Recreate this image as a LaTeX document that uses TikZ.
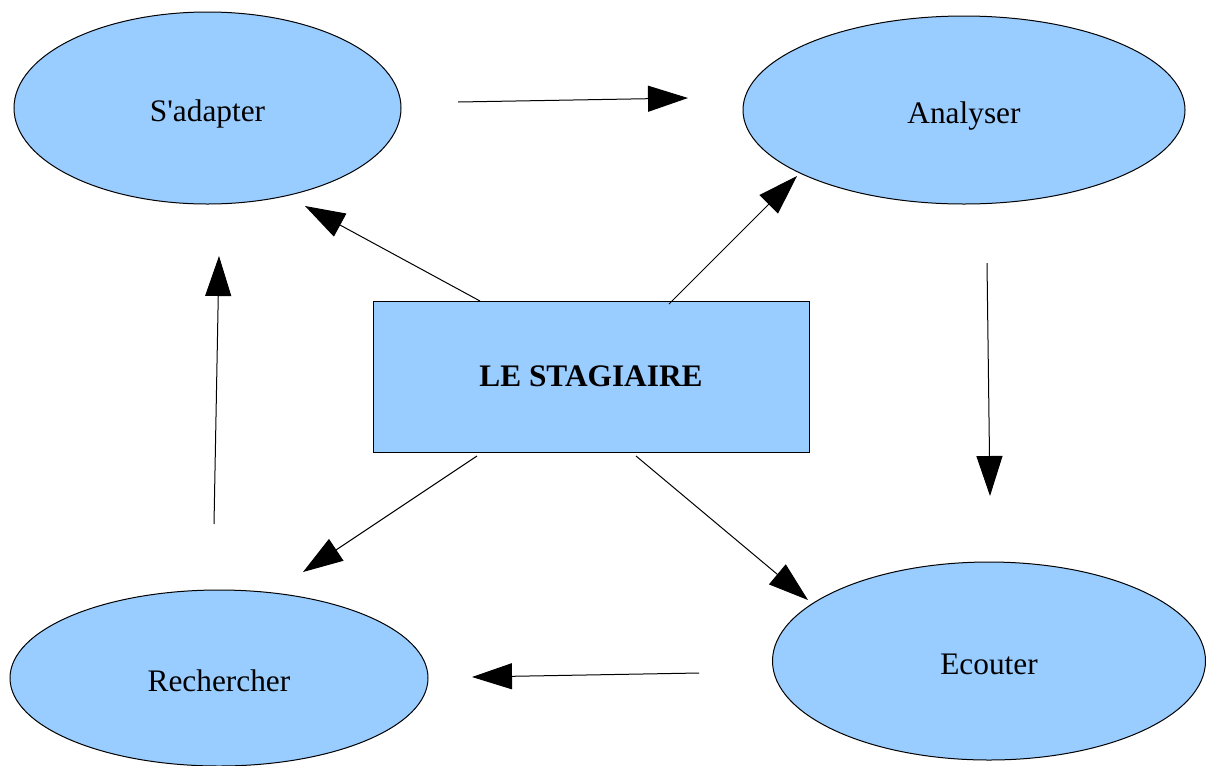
\documentclass[tikz,border=0pt]{standalone}
\usepackage{fontspec}
\setmainfont{Liberation Serif}
\usetikzlibrary{shapes.geometric,arrows.meta}
\definecolor{boxblue}{HTML}{99CCFF}
\begin{document}
\begin{tikzpicture}[x=0.75pt,y=-0.75pt,
  oval/.style={ellipse,draw=black,line width=0.75pt,fill=boxblue,inner sep=0pt,
    text height=19.5pt,text depth=0pt,
    font=\fontsize{23.5}{28}\selectfont},
  centerbox/.style={rectangle,draw=black,line width=0.75pt,fill=boxblue,inner sep=0pt,
    minimum width=327pt,minimum height=113.25pt,font=\fontsize{23.5}{28}\selectfont\bfseries},
  conn/.style={line width=0.75pt,-{Triangle[length=30pt,width=19.5pt]}}]
\useasboundingbox (0,0) rectangle (1206,765);
\fill[white] (0,0) rectangle (1206,765);
\node[oval,minimum width=290.25pt,minimum height=144pt] (adapt) at (207.5,108) {S\textquotesingle adapter};
\node[oval,minimum width=331.5pt,minimum height=141pt] (analy) at (964,110) {Analyser};
\node[oval,minimum width=313.5pt,minimum height=132pt] (rech) at (219,678) {Rechercher};
\node[oval,minimum width=324.75pt,minimum height=148.5pt] (ecout) at (989,661) {Ecouter};
\node[centerbox] (stag) at (591,376.5) {LE STAGIAIRE};
% connector ends
\coordinate (a1) at (458,102);  \coordinate (a2) at (688,98);
\coordinate (b1) at (480,301);  \coordinate (b2) at (305,206);
\coordinate (c1) at (669,304);  \coordinate (c2) at (797,176);
\coordinate (d1) at (987,263);  \coordinate (d2) at (990,496);
\coordinate (e1) at (636,456);  \coordinate (e2) at (808,600);
\coordinate (f1) at (477,456);  \coordinate (f2) at (303,572);
\coordinate (g1) at (699,673);  \coordinate (g2) at (472,677);
\coordinate (h1) at (214,524);  \coordinate (h2) at (219,256);
\draw[conn] (a1) -- (a2);
\draw[conn] (b1) -- (b2);
\draw[conn] (c1) -- (c2);
\draw[conn] (d1) -- (d2);
\draw[conn] (e1) -- (e2);
\draw[conn] (f1) -- (f2);
\draw[conn] (g1) -- (g2);
\draw[conn] (h1) -- (h2);
\end{tikzpicture}
\end{document}
